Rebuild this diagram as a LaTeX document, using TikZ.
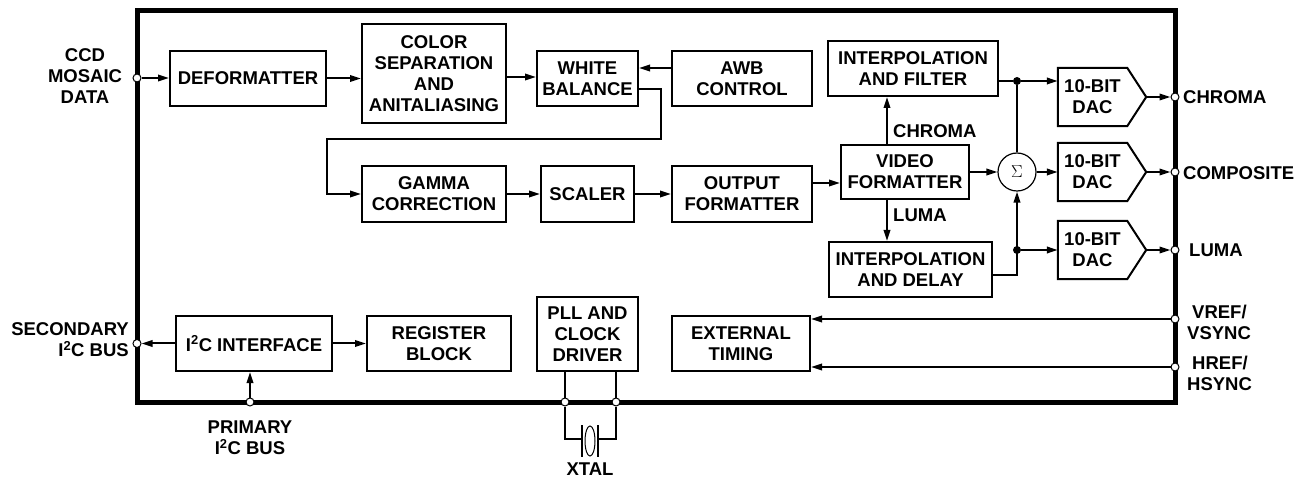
\documentclass[tikz,border=0pt]{standalone}
\usepackage{fontspec}
\setmainfont{Liberation Sans}
\usetikzlibrary{arrows.meta,shapes.geometric,calc}
\newcommand\lblfont{\fontsize{18.5}{21}\selectfont\bfseries}
\begin{document}
\begin{tikzpicture}[x=1pt,y=-1pt,
 blk/.style={draw,line width=2pt,inner sep=0pt,align=center,font=\lblfont},
 txt/.style={inner sep=0pt,align=center,font=\lblfont},
 wire/.style={line width=2pt},
 arr/.style={line width=2pt,-{Triangle[length=11pt,width=6.5pt]}},
 term/.style={circle,draw,line width=1pt,fill=white,inner sep=0pt,minimum size=8pt},
 jdot/.style={circle,fill,inner sep=0pt,minimum size=8pt},
]
\useasboundingbox (0,0) rectangle (1304,478);
% chip outline
\draw[line width=5pt] (137,11) rectangle (1175,402);
% terminals
\node[term] (tin) at (137,78) {};
\node[term] (tsec) at (137,343.5) {};
\node[term] (tprim) at (250,402) {};
\node[term] (tx1) at (565,402) {};
\node[term] (tx2) at (616,402) {};
\node[term] (tchroma) at (1175,97) {};
\node[term] (tcomp) at (1175,172) {};
\node[term] (tluma) at (1175,250) {};
\node[term] (tvref) at (1175,319) {};
\node[term] (thref) at (1175,367) {};
% blocks
\node[blk,minimum width=156pt,minimum height=55pt] (def) at (248,78.5) {DEFORMATTER};
\node[blk,minimum width=144pt,minimum height=99pt] (colsep) at (434,73.5) {COLOR\\SEPARATION\\AND\\ANITALIASING};
\node[blk,minimum width=101pt,minimum height=55pt] (wb) at (587.5,78.5) {WHITE\\BALANCE};
\node[blk,minimum width=140pt,minimum height=55pt] (awb) at (742,78.5) {AWB\\CONTROL};
\node[blk,minimum width=170pt,minimum height=55pt] (ifilt) at (913,68.5) {INTERPOLATION\\AND FILTER};
\node[blk,minimum width=144pt,minimum height=56pt] (gamma) at (434,194) {GAMMA\\CORRECTION};
\node[blk,minimum width=93pt,minimum height=56pt] (scaler) at (587.5,194) {SCALER};
\node[blk,minimum width=140pt,minimum height=56pt] (outfmt) at (742,194) {OUTPUT\\FORMATTER};
\node[blk,minimum width=128pt,minimum height=54pt] (vf) at (905,172) {VIDEO\\FORMATTER};
\node[blk,minimum width=163pt,minimum height=55pt] (idelay) at (910.5,269.5) {INTERPOLATION\\AND DELAY};
\node[blk,minimum width=156pt,minimum height=55pt] (i2c) at (254,343.5) {I\textsuperscript{2}C INTERFACE};
\node[blk,minimum width=144pt,minimum height=55pt] (reg) at (439,343.5) {REGISTER\\BLOCK};
\node[blk,minimum width=101pt,minimum height=74pt] (pll) at (587.5,334) {PLL AND\\CLOCK\\DRIVER};
\node[blk,minimum width=138pt,minimum height=55pt] (ext) at (741,343.5) {EXTERNAL\\TIMING};
% summing node
\node[circle,draw,line width=1.2pt,minimum size=38pt,inner sep=0pt] (sig) at (1017,172) {\fontsize{18}{18}\selectfont$\Sigma$};
% DACs
\foreach \n/\yy in {dac1/97,dac2/172,dac3/250}{
  \node[txt,minimum width=69pt,minimum height=58pt] (\n) at (1092.5,\yy) {10-BIT\\DAC};
  \coordinate (\n tip) at ([xshift=19pt]\n.east);
  \draw[line width=2pt,line join=miter] (\n.north west) -- (\n.north east) -- (\n tip) -- (\n.south east) -- (\n.south west) -- cycle;
}
% junctions
\node[jdot] (j1) at (1017,81) {};
\node[jdot] (j2) at (1017,250) {};
% connectors, top row
\draw[arr] (tin) -- (tin -| def.west);
\draw[arr] (def.east) -- (def.east -| colsep.west);
\draw[arr] (colsep.east |- 0,77) -- (wb.west |- 0,77);
\draw[arr] (awb.west |- 0,68) -- (wb.east |- 0,68);
\draw[arr] (wb.east |- 0,89) -- (661,89) -- (661,139) -- (327,139) -- (327,194) -- (gamma.west);
\draw[arr] (gamma) -- (scaler);
\draw[arr] (scaler) -- (outfmt);
\draw[arr] (outfmt.east |- 0,183) -- (vf.west |- 0,183);
\draw[arr] (vf.north -| 887,0) -- (ifilt.south -| 887,0);
\draw[arr] (vf.south -| 887,0) -- (idelay.north -| 887,0);
\node[txt,anchor=west] (lchr) at (893,131) {CHROMA};
\node[txt,anchor=west] (llum) at (893,215) {LUMA};
\draw[arr] (vf) -- (sig);
\draw[arr] (sig) -- (dac2);
\draw[wire] (ifilt.east |- j1) -- (j1);
\draw[arr] (j1) -- (j1 -| dac1.west);
\draw[wire] (j1) -- (sig.north);
\draw[arr] (idelay.east |- 0,275) -| (sig.south);
\draw[arr] (j2) -- (j2 -| dac3.west);
\draw[arr] (dac1tip) -- (tchroma);
\draw[arr] (dac2tip) -- (tcomp);
\draw[arr] (dac3tip) -- (tluma);
% bottom row
\draw[arr] (i2c.west |- tsec) -- (tsec);
\draw[arr] (i2c.east) -- (reg.west);
\draw[arr] (tprim) -- (tprim |- i2c.south);
\draw[arr] (tvref) -- (tvref -| ext.east);
\draw[arr] (thref) -- (thref -| ext.east);
% crystal
\draw[wire] (pll.south -| tx1) -- (tx1);
\draw[wire] (pll.south -| tx2) -- (tx2);
\node[ellipse,draw,line width=1pt,minimum width=10pt,minimum height=30pt,inner sep=0pt] (xtal) at (590,441) {};
\coordinate (pl) at (582,439);
\coordinate (pr) at (598,439);
\draw[wire] (582,425) -- (582,457);
\draw[wire] (598,425) -- (598,457);
\draw[wire] (tx1) |- (pl);
\draw[wire] (tx2) |- (pr);
% outside labels
\node[txt] (lccd) at (85,76) {CCD\\MOSAIC\\DATA};
\node[txt,anchor=west] (lochr) at (1183,97) {CHROMA};
\node[txt,anchor=west] (locomp) at (1183,173) {COMPOSITE};
\node[txt,anchor=west] (loluma) at (1189,250) {LUMA};
\node[txt,anchor=west,align=left] (lvref) at (1187,322.5) {\hspace*{5pt}VREF/\\VSYNC};
\node[txt,anchor=west,align=left] (lhref) at (1187,373.5) {\hspace*{5pt}HREF/\\HSYNC};
\node[txt,anchor=east,align=right] (lsec) at (129,339.5) {SECONDARY\\I\textsuperscript{2}C BUS};
\node[txt] (lprim) at (250,437.5) {PRIMARY\\I\textsuperscript{2}C BUS};
\node[txt] (lxtal) at (590,469.5) {XTAL};
\end{tikzpicture}
\end{document}
